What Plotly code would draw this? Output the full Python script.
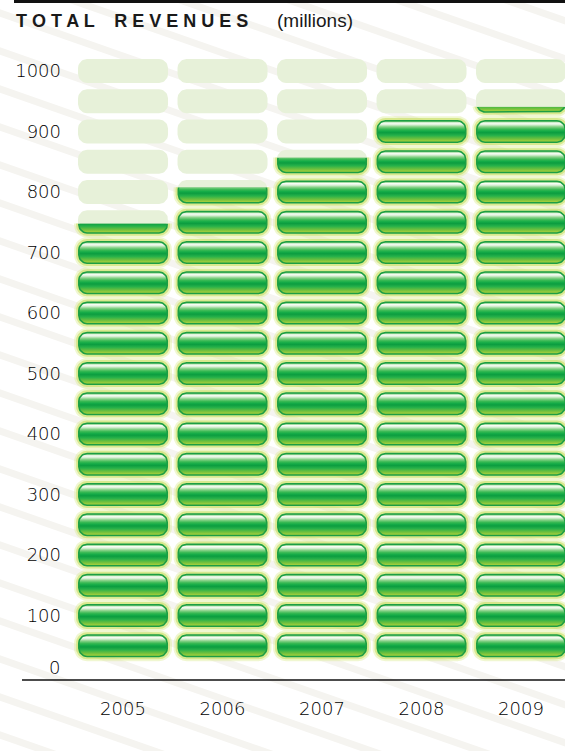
import math
import plotly.graph_objects as go

# ---------------- data ----------------
years = ["2005", "2006", "2007", "2008", "2009"]
revenues = [748, 808, 857, 925, 941]          # millions
segment_size = 50                              # value represented by one pill
scale_max = 1000
y_ticks = [100, 200, 300, 400, 500, 600, 700, 800, 900, 1000]
y_tick_labels = ["100", "200", "300", "400", "500", "600", "700", "800", "900", "1000"]
title_main = "T O T A L \u00a0\u00a0 R E V E N U E S"
title_unit = "(millions)"

# ---------------- geometry / style ----------------
W, H = 565, 751
ML, MR, MT, MB = 70, 0, 35, 71
PW, PH = W - ML - MR, H - MT - MB
X_RANGE = [-0.533, 4.442]
Y_RANGE = [-6.6, 1059.5]
UX = (X_RANGE[1] - X_RANGE[0]) / PW   # data units per px (x)
UY = (Y_RANGE[1] - Y_RANGE[0]) / PH   # data units per px (y)
TICK_FONT = dict(family="DejaVu Sans, sans-serif", size=18, color="#000000", weight=300)


def paper_x(px):
    return (px - ML) / PW


def paper_y(py):
    return (H - MB - py) / PH


def pill(cx, cy, hw, hh, r, n=10):
    pts = []
    corners = [((hw - r), (hh - r), 0), (-(hw - r), (hh - r), 90),
               (-(hw - r), -(hh - r), 180), ((hw - r), -(hh - r), 270)]
    for ox, oy, a0 in corners:
        for i in range(n + 1):
            a = math.radians(a0 + 90 * i / n)
            pts.append((cx + (ox + r * math.cos(a)) * UX, cy + (oy + r * math.sin(a)) * UY))
    return pts


def clip(poly, v, keep_below):
    def inside(p):
        return p[1] <= v if keep_below else p[1] >= v

    def inter(a, b):
        t = (v - a[1]) / (b[1] - a[1])
        return (a[0] + t * (b[0] - a[0]), v)

    out = []
    for i in range(len(poly)):
        cur, prev = poly[i], poly[i - 1]
        if inside(cur):
            if not inside(prev):
                out.append(inter(prev, cur))
            out.append(cur)
        elif inside(prev):
            out.append(inter(prev, cur))
    return out


def add_polys(xs, ys, poly):
    if len(poly) < 3:
        return
    xs.extend([p[0] for p in poly] + [poly[0][0], None])
    ys.extend([p[1] for p in poly] + [poly[0][1], None])


rows = [segment_size * (k + 1) for k in range(scale_max // segment_size)]

glow1_x, glow1_y = [], []
glow2_x, glow2_y = [], []
border_x, border_y = [], []
pale_x, pale_y = [], []
inner_rows = []

HW, HH, R = 45, 11.5, 9

for cy in rows:
    ix, iy = [], []
    for xi, val in enumerate(revenues):
        top = cy + HH * UY
        bot = cy - HH * UY
        if val > bot:
            add_polys(glow1_x, glow1_y, clip(pill(xi, cy, HW + 4, HH + 4, R + 4), val, True))
            add_polys(glow2_x, glow2_y, clip(pill(xi, cy, HW + 2, HH + 2, R + 2), val, True))
            add_polys(border_x, border_y, clip(pill(xi, cy, HW, HH, R), val, True))
            add_polys(ix, iy, clip(pill(xi, cy, HW - 1.6, HH - 1.6, R - 1.6), val, True))
        if val < top:
            add_polys(pale_x, pale_y, clip(pill(xi, cy, HW, HH + 0.5, R), val, False))
    inner_rows.append((cy, ix, iy))

fig = go.Figure()

common = dict(mode="lines", fill="toself", line=dict(width=0, color="rgba(0,0,0,0)"),
              hoverinfo="skip", showlegend=False)

fig.add_trace(go.Scatter(x=glow1_x, y=glow1_y, fillcolor="rgba(218,234,140,0.4)", **common))
fig.add_trace(go.Scatter(x=glow2_x, y=glow2_y, fillcolor="rgba(200,224,96,0.6)", **common))
fig.add_trace(go.Scatter(x=border_x, y=border_y, fillcolor="#1c9e44", **common))

grad_scale = [
    [0.0, "#a5cf3b"], [0.12, "#72c13d"], [0.3, "#27b14a"], [0.44, "#0c9d40"],
    [0.52, "#14ab47"], [0.62, "#38b953"], [0.74, "#88d188"], [0.85, "#dff2db"],
    [0.93, "#f7fcf5"], [1.0, "#86cf82"],
]
for cy, ix, iy in inner_rows:
    if not ix:
        continue
    fig.add_trace(go.Scatter(
        x=ix, y=iy,
        fillgradient=dict(type="vertical", colorscale=grad_scale,
                          start=cy - (HH - 1.6) * UY, stop=cy + (HH - 1.6) * UY),
        **common))

fig.add_trace(go.Scatter(x=pale_x, y=pale_y, fillcolor="#e7f1d9", **common))

# ---------------- decorative background stripes ----------------
shapes = []
slope = 0.35
for y0 in range(-260, 900, 38):
    shapes.append(dict(type="line", xref="paper", yref="paper", layer="below",
                       x0=paper_x(-20), y0=paper_y(y0), x1=paper_x(600), y1=paper_y(y0 + 620 * slope),
                       line=dict(color="#f5f4f0", width=7)))
# top rule and baseline
shapes.append(dict(type="line", xref="paper", yref="paper", x0=paper_x(14), x1=paper_x(566),
                   y0=paper_y(1.5), y1=paper_y(1.5), line=dict(color="#111111", width=3)))
shapes.append(dict(type="line", xref="paper", yref="paper", x0=paper_x(22), x1=1.01,
                   y0=0, y1=0, line=dict(color="#111111", width=1.5)))

annotations = [
    dict(xref="paper", yref="paper", x=paper_x(14), y=paper_y(21), xanchor="left", yanchor="middle",
         text="<b>" + title_main + "</b>", showarrow=False,
         font=dict(family="Liberation Sans, Arial, sans-serif", size=18, color="#1a1a1a")),
    dict(xref="paper", yref="paper", x=paper_x(275), y=paper_y(21), xanchor="left", yanchor="middle",
         text=title_unit, showarrow=False,
         font=dict(family="Liberation Sans Narrow, Liberation Sans, sans-serif", size=19, color="#1a1a1a")),
    dict(xref="paper", yref="y", x=paper_x(62), y=0, yshift=9, xanchor="right", yanchor="middle",
         text="0", showarrow=False, font=TICK_FONT),
]

fig.update_layout(
    width=W, height=H, autosize=False,
    margin=dict(l=ML, r=MR, t=MT, b=MB, pad=0),
    paper_bgcolor="white", plot_bgcolor="rgba(0,0,0,0)",
    shapes=shapes, annotations=annotations,
    xaxis=dict(range=X_RANGE, tickmode="array", tickvals=list(range(len(years))), ticktext=years,
               showgrid=False, zeroline=False, showline=False, ticks="", ticklabelstandoff=16,
               tickfont=TICK_FONT, fixedrange=True),
    yaxis=dict(range=Y_RANGE, tickmode="array", tickvals=y_ticks, ticktext=y_tick_labels,
               showgrid=False, zeroline=False, showline=False, ticks="", ticklabelstandoff=8,
               tickfont=TICK_FONT, fixedrange=True),
)

fig.write_html("out.html", config={"displayModeBar": False, "staticPlot": True},
               post_script="document.body.style.margin='0';document.body.style.overflow='hidden';")
